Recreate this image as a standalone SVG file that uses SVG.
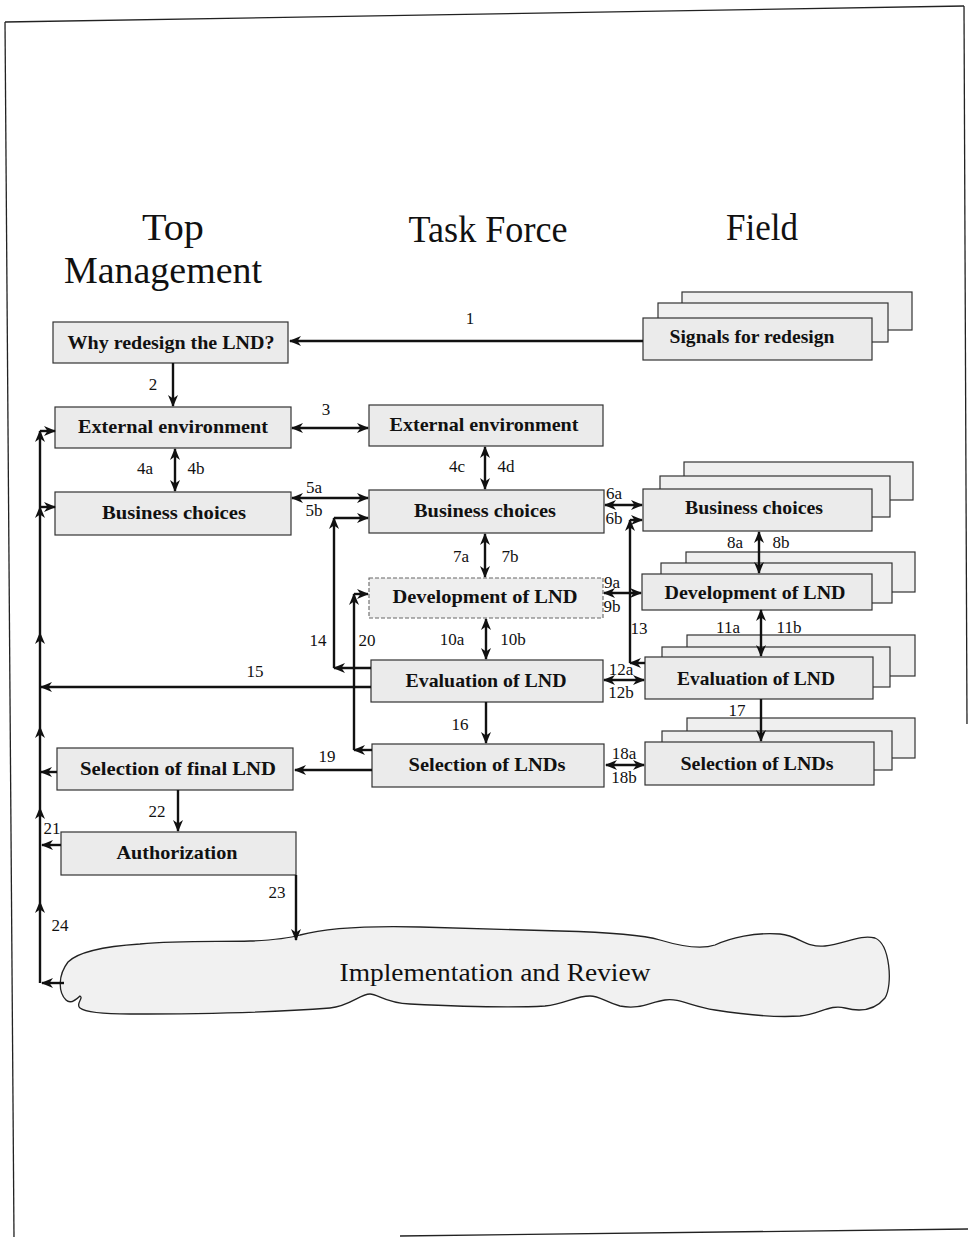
<svg xmlns="http://www.w3.org/2000/svg" width="968" height="1237" viewBox="0 0 968 1237">
  <defs>
    <marker id="ah" viewBox="0 0 12 10" markerWidth="12" markerHeight="10" refX="11" refY="5" markerUnits="userSpaceOnUse" orient="auto-start-reverse">
      <path d="M0,0 L12,5 L0,10 L3.5,5 z" fill="#111"/>
    </marker>
    <style>
      .box { fill: #ebebeb; stroke: #333; stroke-width: 1.2; }
      .back { fill: #efefef; stroke: #333; stroke-width: 1.2; }
      .dash { fill: #eeeeee; stroke: #666; stroke-width: 1.1; stroke-dasharray: 4 2; }
      .lbl { font-family: "Liberation Serif", "Times New Roman", serif; font-weight: bold; font-size: 19px; fill: #111; text-anchor: middle; }
      .head { font-family: "Liberation Serif", "Times New Roman", serif; font-size: 37px; fill: #111; text-anchor: middle; }
      .num { font-family: "Liberation Serif", "Times New Roman", serif; font-size: 17px; fill: #111; text-anchor: middle; }
      .c1 { fill: none; stroke: #111; stroke-width: 2.4; marker-end: url(#ah); }
      .c2 { fill: none; stroke: #111; stroke-width: 2.4; marker-start: url(#ah); marker-end: url(#ah); }
      .page { fill: none; stroke: #222; stroke-width: 1.3; }
    </style>
  </defs>
  <rect width="968" height="1237" fill="#fff"/>

  <!-- page frame -->
  <g id="frame">
    <path class="page" d="M5,22 L964,6"/>
    <path class="page" d="M5,22 L14,1237"/>
    <path class="page" d="M964,6 L967,724"/>
    <path class="page" d="M400,1236 L968,1229"/>
  </g>

  <!-- column headings -->
  <g id="headings">
    <text class="head" x="173" y="240" textLength="62" lengthAdjust="spacingAndGlyphs">Top</text>
    <text class="head" x="163" y="283" textLength="198" lengthAdjust="spacingAndGlyphs">Management</text>
    <text class="head" x="488" y="242" textLength="159" lengthAdjust="spacingAndGlyphs">Task Force</text>
    <text class="head" x="762" y="240" textLength="72" lengthAdjust="spacingAndGlyphs">Field</text>
  </g>

  <!-- Top Management column -->
  <g id="tm-why">
    <rect class="box" x="53" y="322" width="235" height="41"/>
    <text class="lbl" x="171" y="349" textLength="207" lengthAdjust="spacingAndGlyphs">Why redesign the LND?</text>
  </g>
  <g id="tm-external">
    <rect class="box" x="55" y="407" width="236" height="41"/>
    <text class="lbl" x="173" y="433" textLength="190" lengthAdjust="spacingAndGlyphs">External environment</text>
  </g>
  <g id="tm-business">
    <rect class="box" x="55" y="492" width="236" height="43"/>
    <text class="lbl" x="174" y="519" textLength="144" lengthAdjust="spacingAndGlyphs">Business choices</text>
  </g>
  <g id="tm-selection">
    <rect class="box" x="57" y="748" width="236" height="42"/>
    <text class="lbl" x="178" y="775" textLength="196" lengthAdjust="spacingAndGlyphs">Selection of final LND</text>
  </g>
  <g id="tm-authorization">
    <rect class="box" x="61" y="832" width="235" height="43"/>
    <text class="lbl" x="177" y="859" textLength="121" lengthAdjust="spacingAndGlyphs">Authorization</text>
  </g>

  <!-- Task Force column -->
  <g id="tf-external">
    <rect class="box" x="369" y="405" width="234" height="41"/>
    <text class="lbl" x="484" y="431" textLength="189" lengthAdjust="spacingAndGlyphs">External environment</text>
  </g>
  <g id="tf-business">
    <rect class="box" x="369" y="490" width="235" height="43"/>
    <text class="lbl" x="485" y="517" textLength="142" lengthAdjust="spacingAndGlyphs">Business choices</text>
  </g>
  <g id="tf-development">
    <rect class="dash" x="369" y="578" width="234" height="40"/>
    <text class="lbl" x="485" y="603" textLength="185" lengthAdjust="spacingAndGlyphs">Development of LND</text>
  </g>
  <g id="tf-evaluation">
    <rect class="box" x="371" y="660" width="232" height="42"/>
    <text class="lbl" x="486" y="687" textLength="161" lengthAdjust="spacingAndGlyphs">Evaluation of LND</text>
  </g>
  <g id="tf-selection">
    <rect class="box" x="372" y="744" width="232" height="43"/>
    <text class="lbl" x="487" y="771" textLength="157" lengthAdjust="spacingAndGlyphs">Selection of LNDs</text>
  </g>

  <!-- Field column: stacked sheets -->
  <g id="fd-signals">
    <rect class="back" x="682" y="292" width="230" height="38"/>
    <rect class="back" x="658" y="303" width="230" height="39"/>
    <rect class="box" x="643" y="318" width="229" height="42"/>
    <text class="lbl" x="752" y="343" textLength="165" lengthAdjust="spacingAndGlyphs">Signals for redesign</text>
  </g>
  <g id="fd-business">
    <rect class="back" x="684" y="462" width="229" height="38"/>
    <rect class="back" x="660" y="476" width="230" height="41"/>
    <rect class="box" x="643" y="489" width="229" height="42"/>
    <text class="lbl" x="754" y="514" textLength="138" lengthAdjust="spacingAndGlyphs">Business choices</text>
  </g>
  <g id="fd-development">
    <rect class="back" x="686" y="552" width="229" height="40"/>
    <rect class="back" x="661" y="563" width="231" height="40"/>
    <rect class="box" x="642" y="574" width="230" height="36"/>
    <text class="lbl" x="755" y="599" textLength="181" lengthAdjust="spacingAndGlyphs">Development of LND</text>
  </g>
  <g id="fd-evaluation">
    <rect class="back" x="687" y="635" width="228" height="41"/>
    <rect class="back" x="662" y="647" width="228" height="40"/>
    <rect class="box" x="645" y="657" width="228" height="42"/>
    <text class="lbl" x="756" y="685" textLength="158" lengthAdjust="spacingAndGlyphs">Evaluation of LND</text>
  </g>
  <g id="fd-selection">
    <rect class="back" x="687" y="718" width="228" height="40"/>
    <rect class="back" x="662" y="731" width="230" height="39"/>
    <rect class="box" x="645" y="742" width="229" height="43"/>
    <text class="lbl" x="757" y="770" textLength="153" lengthAdjust="spacingAndGlyphs">Selection of LNDs</text>
  </g>

  <!-- Implementation cloud -->
  <g id="implementation">
    <path d="M68,962 C80,950 110,946 140,944 C180,940 220,942 250,941 C275,940 290,938 300,935 C330,927 380,926 420,927 C470,928 520,930 560,931 C600,932 640,934 660,940 C680,946 700,950 715,945 C730,938 755,932 780,934 C800,936 805,948 825,946 C845,944 860,934 875,938 C890,944 893,985 885,998 C875,1010 860,1012 845,1008 C830,1004 820,1014 800,1016 C770,1018 740,1014 715,1010 C690,1006 680,998 665,1000 C650,1002 640,1010 620,1006 C605,1002 600,996 590,996 C575,996 565,1004 545,1006 C510,1008 450,1006 410,1004 C385,1003 378,994 370,994 C360,994 350,1006 330,1008 C280,1012 200,1014 130,1014 C100,1014 85,1012 80,1008 C75,1004 84,998 80,996 C76,1000 70,1004 66,1000 C58,992 58,975 68,962 Z" fill="#f1f1f1" stroke="#222" stroke-width="1.3"/>
    <text x="495" y="981" font-family="'Liberation Serif', 'Times New Roman', serif" font-size="26" fill="#111" text-anchor="middle" textLength="311" lengthAdjust="spacingAndGlyphs">Implementation and Review</text>
  </g>

  <!-- connectors -->
  <g id="connectors">
    <path class="c1" d="M643,341 H290"/>
    <path class="c1" d="M173,363 V406"/>
    <path class="c2" d="M292,428 H368"/>
    <path class="c2" d="M175,449 V491"/>
    <path class="c2" d="M485,447 V489"/>
    <path class="c2" d="M292,498 H368"/>
    <path class="c2" d="M605,505 H642"/>
    <path class="c2" d="M485,534 V577"/>
    <path class="c2" d="M759,532 V573"/>
    <path class="c2" d="M604,593 H641"/>
    <path class="c2" d="M486,619 V659"/>
    <path class="c2" d="M761,610 V656"/>
    <path class="c2" d="M604,680 H644"/>
    <path class="c2" d="M606,765 H644"/>
    <path class="c1" d="M486,702 V743"/>
    <path class="c1" d="M761,699 V741"/>
    <path class="c1" d="M372,770 H295"/>
    <path class="c1" d="M178,790 V831"/>
    <path class="c1" d="M296,875 V940"/>
    <!-- 13: field evaluation back to field business choices -->
    <path class="c1" d="M645,663 H630"/>
    <path class="c1" d="M630,663 V520"/>
    <path class="c1" d="M630,520 H642"/>
    <!-- 14: evaluation back to business choices -->
    <path class="c1" d="M371,668 H334"/>
    <path class="c1" d="M334,668 V518"/>
    <path class="c1" d="M334,518 H368"/>
    <!-- 20: selection back to development -->
    <path class="c1" d="M372,750 H354"/>
    <path class="c1" d="M354,750 V594"/>
    <path class="c1" d="M354,594 H368"/>
    <!-- 15, 21, 24 and the left feedback bus -->
    <path class="c1" d="M371,687 H41"/>
    <path class="c1" d="M57,772 H41"/>
    <path class="c1" d="M61,845 H42"/>
    <path class="c1" d="M64,983 H42"/>
    <path class="c1" d="M40,983 V902"/>
    <path class="c1" d="M40,902 V808"/>
    <path class="c1" d="M40,808 V727"/>
    <path class="c1" d="M40,727 V633"/>
    <path class="c1" d="M40,633 V507"/>
    <path class="c1" d="M40,507 V431"/>
    <path class="c1" d="M40,431 H55"/>
    <path class="c1" d="M40,507 H55"/>
  </g>

  <!-- connector labels -->
  <g id="labels">
    <text class="num" x="470" y="324">1</text>
    <text class="num" x="153" y="390">2</text>
    <text class="num" x="326" y="415">3</text>
    <text class="num" x="145" y="474">4a</text>
    <text class="num" x="196" y="474">4b</text>
    <text class="num" x="457" y="472">4c</text>
    <text class="num" x="506" y="472">4d</text>
    <text class="num" x="314" y="493">5a</text>
    <text class="num" x="314" y="516">5b</text>
    <text class="num" x="614" y="499">6a</text>
    <text class="num" x="614" y="524">6b</text>
    <text class="num" x="461" y="562">7a</text>
    <text class="num" x="510" y="562">7b</text>
    <text class="num" x="735" y="548">8a</text>
    <text class="num" x="781" y="548">8b</text>
    <text class="num" x="612" y="588">9a</text>
    <text class="num" x="612" y="612">9b</text>
    <text class="num" x="452" y="645">10a</text>
    <text class="num" x="513" y="645">10b</text>
    <text class="num" x="728" y="633">11a</text>
    <text class="num" x="789" y="633">11b</text>
    <text class="num" x="621" y="675">12a</text>
    <text class="num" x="621" y="698">12b</text>
    <text class="num" x="639" y="634">13</text>
    <text class="num" x="318" y="646">14</text>
    <text class="num" x="255" y="677">15</text>
    <text class="num" x="460" y="730">16</text>
    <text class="num" x="737" y="716">17</text>
    <text class="num" x="624" y="759">18a</text>
    <text class="num" x="624" y="783">18b</text>
    <text class="num" x="327" y="762">19</text>
    <text class="num" x="367" y="646">20</text>
    <text class="num" x="52" y="834">21</text>
    <text class="num" x="157" y="817">22</text>
    <text class="num" x="277" y="898">23</text>
    <text class="num" x="60" y="931">24</text>
  </g>
</svg>
